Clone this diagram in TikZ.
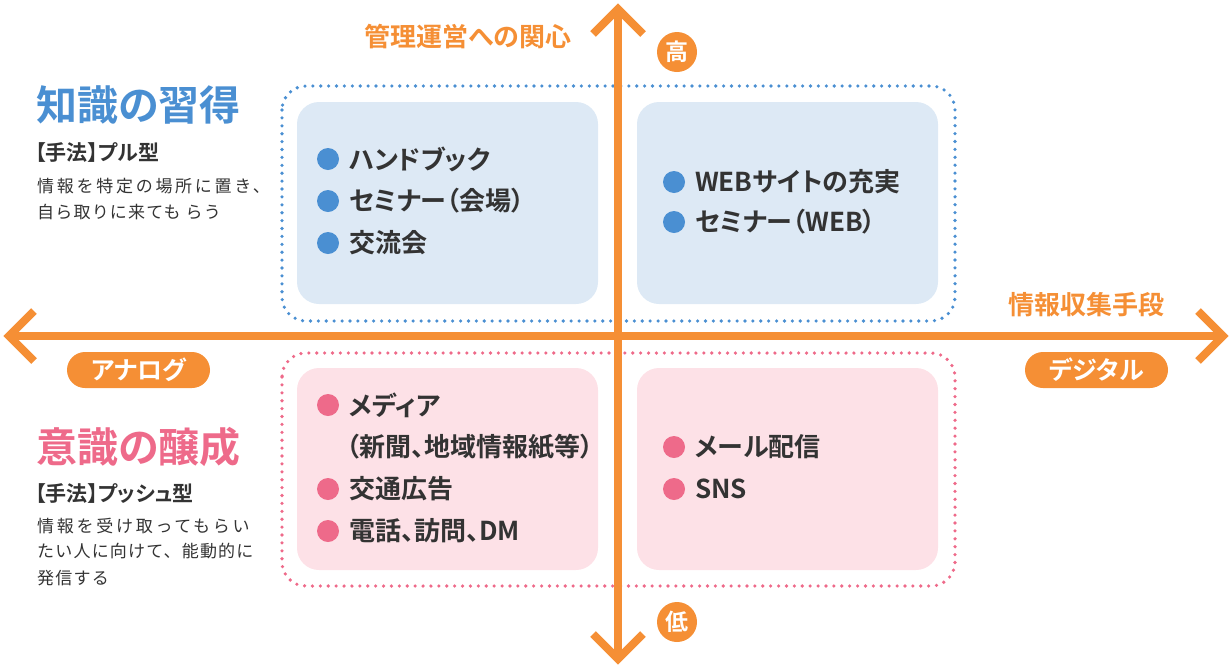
\documentclass[tikz,border=0pt]{standalone}
\usepackage{fontspec}
\usetikzlibrary{calc}
\newfontfamily\jp[BoldFont={Noto Sans CJK JP Bold}, RawFeature=+palt]{Noto Sans CJK JP}
\newfontfamily\jpdesc[LetterSpace=7]{Noto Sans CJK JP}
\newfontfamily\jpdescw[LetterSpace=16]{Noto Sans CJK JP}
\definecolor{ora}{HTML}{F58F35}
\definecolor{bdot}{HTML}{4A8FD2}
\definecolor{bfill}{HTML}{DDE9F5}
\definecolor{pdot}{HTML}{EE6A8A}
\definecolor{pfill}{HTML}{FDE1E7}
\definecolor{txt}{HTML}{333333}
\begin{document}
\begin{tikzpicture}[x=1pt,y=-1pt,
  dotted box/.style={line width=3.6, dash pattern=on 0pt off 7.9pt, line cap=round, rounded corners=24},
  quad/.style={rounded corners=22, draw=none},
  axis/.style={ora, line width=8},
  chev/.style={ora, line width=8, line join=miter, miter limit=10},
  item/.style={anchor=west, inner sep=0, text=txt, font=\jp\bfseries\fontsize{26}{30}\selectfont},
  bul/.style={circle, minimum size=22, inner sep=0},
  desc/.style={anchor=west, inner sep=0, text=txt, font=\jpdesc\fontsize{17}{20}\selectfont},
  descw/.style={anchor=west, inner sep=0, text=txt, font=\jpdescw\fontsize{17}{20}\selectfont},
  method/.style={anchor=west, inner sep=0, text=txt, font=\jp\bfseries\fontsize{21}{25}\selectfont},
  title/.style={anchor=west, inner sep=0, font=\jp\bfseries\fontsize{41}{46}\selectfont},
  axlabel/.style={inner sep=0, text=ora, font=\jp\bfseries\fontsize{26}{30}\selectfont},
  pill/.style={fill=ora, rounded corners=18, minimum width=143, minimum height=36, inner sep=0, text=white, font=\jp\bfseries\fontsize{25}{28}\selectfont},
  disc/.style={circle, fill=ora, minimum size=40, inner sep=0, text=white, font=\jp\bfseries\fontsize{23}{26}\selectfont}
]
\useasboundingbox (0,0) rectangle (1229,665);
% quadrant boxes
\fill[bfill, quad] (297,102) rectangle (598,304);
\fill[bfill, quad] (637,102) rectangle (938,304);
\fill[pfill, quad] (297,368) rectangle (598,570);
\fill[pfill, quad] (637,368) rectangle (938,570);
% dotted frames
\draw[bdot, dotted box] (282,86) rectangle (955,321);
\draw[pdot, dotted box] (282,353) rectangle (955,586);
% axes
\coordinate (top) at (618,9);
\coordinate (bot) at (618,659);
\coordinate (lft) at (9,336);
\coordinate (rgt) at (1223,336);
\draw[axis] (top) -- (bot);
\draw[axis] (lft) -- (rgt);
\draw[chev] ($(top)+(-25,25)$) -- (top) -- ($(top)+(25,25)$);
\draw[chev] ($(bot)+(-25,-25)$) -- (bot) -- ($(bot)+(25,-25)$);
\draw[chev] ($(lft)+(25,-25)$) -- (lft) -- ($(lft)+(25,25)$);
\draw[chev] ($(rgt)+(-25,-25)$) -- (rgt) -- ($(rgt)+(-25,25)$);
% axis labels
\node[axlabel] (vlab) at (468,37) {管理運営への関心};
\node[axlabel] (hlab) at (1086,305) {情報収集手段};
\node[disc] (high) at (677,52) {高};
\node[disc] (low) at (677,622) {低};
\node[pill] (analog) at (138.5,370) {アナログ};
\node[pill] (digital) at (1096.5,370) {デジタル};
% left texts
\node[title, text=bdot] (t1) at (36,105) {知識の習得};
\node[method] (m1) at (35,153) {【手法】プル型};
\node[descw] (d1a) at (37,186) {情報を特定の場所に置き、};
\node[desc] (d1b) at (37,212) {自ら取りに来ても らう};
\node[title, text=pdot] (t2) at (36,447) {意識の醸成};
\node[method] (m2) at (35,494) {【手法】プッシュ型};
\node[descw] (d2a) at (37,526) {情報を受け取ってもらい};
\node[desc] (d2b) at (37,551) {たい人に向けて、能動的に};
\node[desc] (d2c) at (37,578) {発信する};
% quadrant items
\node[bul, fill=bdot] (b11) at (328,159) {};
\node[item] (i11) at (349,159) {ハンドブック};
\node[bul, fill=bdot] (b12) at (328,201) {};
\node[item] (i12) at (349,201) {セミナー（会場）};
\node[bul, fill=bdot] (b13) at (328,243) {};
\node[item] (i13) at (349,243) {交流会};
\node[bul, fill=bdot] (b21) at (674,182) {};
\node[item] (i21) at (695,182) {WEBサイトの充実};
\node[bul, fill=bdot] (b22) at (674,222) {};
\node[item] (i22) at (695,222) {セミナー（WEB）};
\node[bul, fill=pdot] (b31) at (328,405) {};
\node[item] (i31) at (349,405) {メディア};
\node[item] (i31b) at (346,447) {（新聞、地域情報紙等）};
\node[bul, fill=pdot] (b32) at (328,489) {};
\node[item] (i32) at (349,489) {交通広告};
\node[bul, fill=pdot] (b33) at (328,531) {};
\node[item] (i33) at (349,531) {電話、訪問、DM};
\node[bul, fill=pdot] (b41) at (674,447) {};
\node[item] (i41) at (695,447) {メール配信};
\node[bul, fill=pdot] (b42) at (674,489) {};
\node[item] (i42) at (695,489) {SNS};
\end{tikzpicture}
\end{document}
